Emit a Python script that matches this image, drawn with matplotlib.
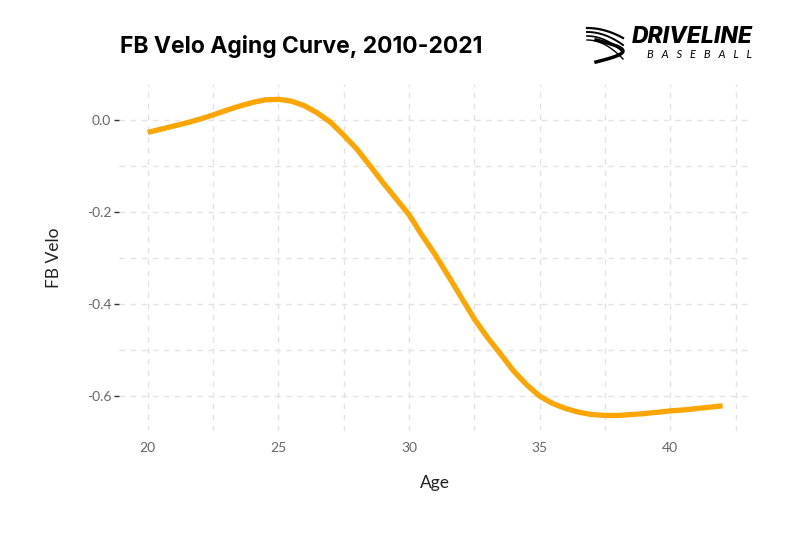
import numpy as np
import matplotlib
matplotlib.use('Agg')
import matplotlib.pyplot as plt

# smoothed aging curve
ages = [20, 20.5, 21, 21.5, 22, 22.5, 23, 23.5, 24, 24.5, 25, 25.5, 26, 26.5,
        27, 27.5, 28, 28.5, 29, 29.5, 30, 30.5, 31, 31.5, 32, 32.5, 33, 33.5,
        34, 34.5, 35, 35.5, 36, 36.5, 37, 37.5, 38, 38.5, 39, 39.5, 40, 40.5,
        41, 41.5, 42]
fb_velo = [-0.026, -0.019, -0.012, -0.005, 0.003, 0.012, 0.022, 0.031, 0.039,
           0.045, 0.046, 0.042, 0.032, 0.016, -0.004, -0.032, -0.062, -0.098,
           -0.135, -0.170, -0.205, -0.250, -0.292, -0.338, -0.385, -0.432,
           -0.472, -0.508, -0.545, -0.575, -0.600, -0.616, -0.627, -0.635,
           -0.640, -0.642, -0.642, -0.640, -0.638, -0.635, -0.632, -0.630,
           -0.627, -0.624, -0.621]

x_ticks = [20, 25, 30, 35, 40]
x_minor = [22.5, 27.5, 32.5, 37.5, 42.5]
y_ticks = [0.0, -0.2, -0.4, -0.6]
y_minor = [-0.1, -0.3, -0.5]

plt.rcParams['font.family'] = ['Lato', 'DejaVu Sans']

fig = plt.figure(figsize=(7.89, 5.48), dpi=100)
ax = fig.add_axes([0.1508, 0.213, 0.8014, 0.6346])

ax.plot(ages, fb_velo, color='#FFA500', linewidth=3.8, solid_capstyle='butt', zorder=3)

xr = max(ages) - min(ages)
ax.set_xlim(min(ages) - 0.05 * xr, max(ages) + 0.05 * xr)
yr = max(fb_velo) - min(fb_velo)
ax.set_ylim(min(fb_velo) - 0.05 * yr, max(fb_velo) + 0.05 * yr)

ax.set_xticks(x_ticks)
ax.set_xticks(x_minor, minor=True)
ax.set_yticks(y_ticks)
ax.set_yticks(y_minor, minor=True)
ax.set_yticklabels(['0.0', '-0.2', '-0.4', '-0.6'])

ax.grid(True, which='both', color='#e3e3e3', linestyle=(0, (4, 4)), linewidth=1)
ax.set_axisbelow(True)
for s in ax.spines.values():
    s.set_visible(False)

ax.tick_params(axis='x', which='both', length=0, pad=8, labelsize=10, labelcolor='#666666')
ax.tick_params(axis='y', which='major', length=3.5, width=1, color='#333333',
               pad=2, labelsize=10, labelcolor='#666666')
ax.tick_params(axis='y', which='minor', length=0)

ax.set_xlabel('Age', fontsize=12.5, color='#222222', labelpad=15)
ax.set_ylabel('FB Velo', fontsize=12.5, color='#222222', labelpad=18)

fig.text(120 / 789, 1 - 46 / 548, 'FB Velo Aging Curve, 2010-2021',
         fontsize=16.5, fontweight='bold', color='black', va='center', ha='left',
         family=['Inter', 'DejaVu Sans'])

# logo, roughly
fig.text(753 / 789, 1 - 37 / 548, 'DRIVELINE', fontsize=16.5, fontweight='heavy',
         style='italic', color='black', ha='right', va='center',
         family=['Inter', 'DejaVu Sans'])
fig.text(752 / 789, 1 - 55 / 548, 'B   A   S   E   B   A   L   L', fontsize=8,
         style='italic', color='black', ha='right', va='center')
t = np.linspace(0, 1, 30)
for k, off in enumerate([0, 4, 8, 12]):
    xs = (587 + 36 * t) / 789
    ys = 1 - (28 + off + 10 * t ** 2 * (1 + k * 0.3)) / 548
    fig.add_artist(plt.Line2D(xs, ys, color='black', linewidth=1.6 - 0.2 * k))
xs = (596 + 30 * np.sin(np.pi * t) * 0.9) / 789
ys = 1 - (62 - 22 * t) / 548
fig.add_artist(plt.Line2D(xs, ys, color='black', linewidth=2.5))

fig.savefig('out.png', dpi=100, facecolor='white')
